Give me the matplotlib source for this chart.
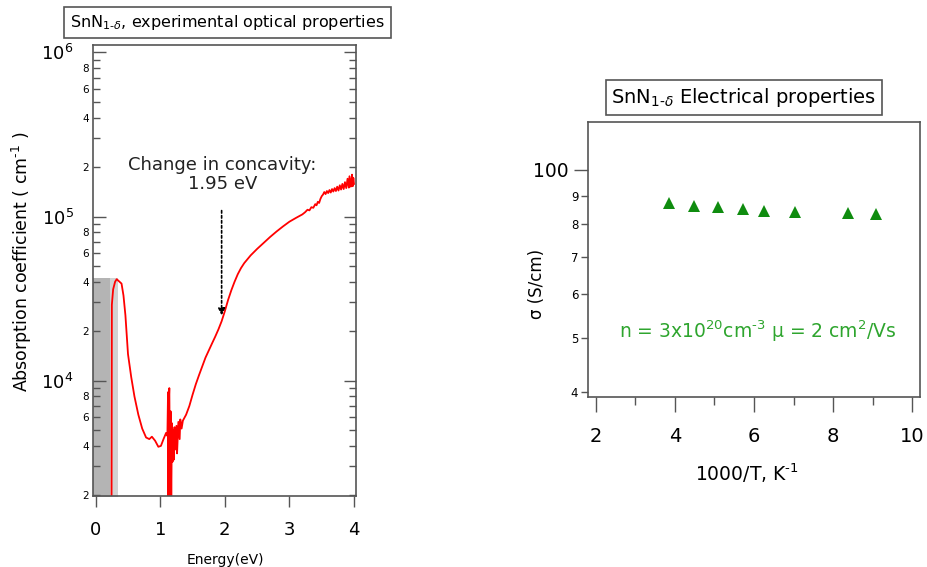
import matplotlib
matplotlib.use("Agg")
import matplotlib.pyplot as plt
from matplotlib.ticker import FixedLocator, FixedFormatter

plt.rcParams['font.family'] = ['DejaVu Sans']

# --- optical absorption spectrum ---
energy = [0.245, 0.25, 0.27, 0.30, 0.325, 0.37, 0.40, 0.43, 0.46, 0.50, 0.55,
          0.60, 0.66, 0.72, 0.78, 0.83, 0.87, 0.92, 0.97, 1.01, 1.05, 1.09,
          1.11, 1.12, 1.125, 1.13, 1.14, 1.15, 1.155, 1.16, 1.17, 1.18, 1.19, 1.20, 1.21,
          1.22, 1.23, 1.25, 1.26, 1.28, 1.30, 1.31, 1.33, 1.35, 1.40, 1.45,
          1.50, 1.55, 1.60, 1.70, 1.80, 1.85, 1.90, 1.95, 2.00, 2.05, 2.10, 2.15,
          2.20, 2.25, 2.30, 2.40, 2.50, 2.60, 2.70, 2.80, 2.90, 3.00, 3.10, 3.20,
          3.24, 3.28, 3.31, 3.34, 3.37, 3.40, 3.42, 3.44, 3.46, 3.48, 3.50, 3.52,
          3.54, 3.56, 3.58, 3.60, 3.62, 3.64, 3.66, 3.68, 3.70, 3.72, 3.74, 3.76,
          3.78, 3.80, 3.82, 3.84, 3.86, 3.88, 3.90, 3.92, 3.93, 3.95, 3.96, 3.97,
          3.98, 3.99, 4.00]
alpha = [1.5e3, 2.9e4, 3.6e4, 4.0e4, 4.15e4, 4.0e4, 3.9e4, 3.3e4, 2.5e4, 1.45e4, 1.05e4,
         8.0e3, 6.2e3, 5.1e3, 4.5e3, 4.4e3, 4.55e3, 4.3e3, 3.95e3, 4.0e3, 4.4e3, 4.8e3,
         4.6e3, 8.5e3, 1.8e3, 7.0e3, 9.0e3, 2.4e3, 1.7e3, 6.5e3, 1.8e3, 5.5e3, 3.2e3, 5.0e3, 3.3e3,
         5.2e3, 3.8e3, 5.3e3, 3.6e3, 5.6e3, 4.4e3, 5.8e3, 5.1e3, 5.7e3, 6.2e3, 7.0e3,
         8.2e3, 9.5e3, 1.08e4, 1.38e4, 1.68e4, 1.85e4, 2.05e4, 2.3e4, 2.65e4, 3.1e4, 3.55e4, 4.0e4,
         4.45e4, 4.85e4, 5.2e4, 5.8e4, 6.35e4, 6.9e4, 7.5e4, 8.1e4, 8.7e4, 9.3e4, 9.8e4, 1.03e5,
         1.06e5, 1.10e5, 1.09e5, 1.14e5, 1.13e5, 1.19e5, 1.17e5, 1.23e5, 1.21e5, 1.28e5, 1.33e5, 1.36e5,
         1.41e5, 1.37e5, 1.43e5, 1.39e5, 1.45e5, 1.40e5, 1.47e5, 1.42e5, 1.49e5, 1.43e5, 1.52e5, 1.44e5,
         1.55e5, 1.46e5, 1.58e5, 1.47e5, 1.62e5, 1.49e5, 1.70e5, 1.50e5, 1.76e5, 1.52e5, 1.66e5, 1.80e5,
         1.53e5, 1.72e5, 1.58e5]

# --- conductivity vs inverse temperature ---
inv_T = [3.84, 4.47, 5.08, 5.72, 6.26, 7.03, 8.39, 9.08]
sigma = [87.4, 86.2, 85.7, 85.1, 84.5, 84.1, 83.8, 83.5]

spine_col = '#555555'

fig = plt.figure(figsize=(9.28, 5.67), dpi=100)

# ================= left panel =================
ax1 = fig.add_axes([93/928, 1-496/567, 263/928, 451/567])
ax1.set_yscale('log')
ax1.set_xlim(-0.042, 4.031)
ax1.set_ylim(1.98e3, 1.11e6)

ax1.fill_between([-0.042, 0.22], 1e3, 4.2e4, color='#b4b4b4', lw=0)
ax1.fill_between([0.22, 0.34], 1e3, 4.2e4, color='#d2d2d2', lw=0)
ax1.plot(energy, alpha, color='#ff0000', lw=1.3)

ax1.annotate('', xy=(1.95, 2.4e4), xytext=(1.95, 1.13e5),
             arrowprops=dict(arrowstyle='-|>', color='black', lw=1.2,
                             linestyle=(0, (1.5, 1.5)), mutation_scale=10))
ax1.text(1.96, 1.8e5, 'Change in concavity:\n1.95 eV', ha='center', va='center',
         fontsize=13, color='#222222', linespacing=1.05)

major = [1e4, 1e5, 1e6]
minor = [2e3, 3e3, 4e3, 5e3, 6e3, 7e3, 8e3, 9e3,
         2e4, 3e4, 4e4, 5e4, 6e4, 7e4, 8e4, 9e4,
         2e5, 3e5, 4e5, 5e5, 6e5, 7e5, 8e5, 9e5]
minor_labels = ['2', '', '4', '', '6', '', '8', ''] * 3
ax1.yaxis.set_major_locator(FixedLocator(major))
ax1.yaxis.set_major_formatter(FixedFormatter([r'$10^4$', r'$10^5$', r'$10^6$']))
ax1.yaxis.set_minor_locator(FixedLocator(minor))
ax1.yaxis.set_minor_formatter(FixedFormatter(minor_labels))
ax1.tick_params(axis='y', which='major', direction='in', length=9, width=1,
                right=True, labelsize=13, pad=14, color=spine_col)
ax1.tick_params(axis='y', which='minor', direction='in', length=5, width=1,
                right=True, labelsize=7.5, pad=3, color=spine_col)
ax1.set_xticks([0, 1, 2, 3, 4])
ax1.tick_params(axis='x', which='major', direction='out', length=8, width=1,
                labelsize=13, pad=10, color=spine_col)
ax1.tick_params(axis='x', which='minor', bottom=False)
for s in ax1.spines.values():
    s.set_color(spine_col)
    s.set_linewidth(1.2)

ax1.set_xlabel('Energy(eV)', fontsize=10)
ax1.xaxis.set_label_coords(0.502, -0.126)
ax1.set_ylabel(r'Absorption coefficient ( cm$^{\text{-}1}$ )', fontsize=12.5)
ax1.yaxis.set_label_coords(-0.225, 0.52)

fig.text(227.5/928, 1-22.5/567, r'SnN$_{1\text{-}\delta}$, experimental optical properties',
         ha='center', va='center', fontsize=11.5,
         bbox=dict(boxstyle='square,pad=0.38', fc='white', ec=spine_col, lw=1.2))

# ================= right panel =================
ax2 = fig.add_axes([588/928, 1-396.7/567, 332/928, 275/567])
ax2.set_yscale('log')
ax2.set_xlim(1.80, 10.2)
ax2.set_ylim(39.3, 122.0)
ax2.plot(inv_T, sigma, linestyle='none', marker='^', markersize=8.5,
         color='#0f8c0f', markeredgewidth=0)

ax2.text(6.10, 51.5, r'n = 3x10$^{20}$cm$^{\text{-}3}$ μ = 2 cm$^2$/Vs',
         ha='center', va='center', fontsize=13.5, color='#2ea52e')

ax2.yaxis.set_major_locator(FixedLocator([100]))
ax2.yaxis.set_major_formatter(FixedFormatter(['100']))
ax2.yaxis.set_minor_locator(FixedLocator([40, 50, 60, 70, 80, 90]))
ax2.yaxis.set_minor_formatter(FixedFormatter(['4', '5', '6', '7', '8', '9']))
ax2.tick_params(axis='y', which='major', direction='out', length=10, width=1,
                labelsize=13.5, pad=4, color=spine_col)
ax2.tick_params(axis='y', which='minor', direction='out', length=5, width=1,
                labelsize=8.5, pad=2, color=spine_col)
ax2.set_xticks([2, 4, 6, 8, 10])
ax2.set_xticks([3, 5, 7, 9], minor=True)
ax2.tick_params(axis='x', which='major', direction='out', length=11, width=1,
                labelsize=14, pad=11, color=spine_col)
ax2.tick_params(axis='x', which='minor', direction='out', length=6, width=1,
                color=spine_col)
for s in ax2.spines.values():
    s.set_color(spine_col)
    s.set_linewidth(1.2)

ax2.set_xlabel(r'1000/T, K$^{\text{-}1}$', fontsize=13.5)
ax2.xaxis.set_label_coords(0.478, -0.235)
ax2.set_ylabel('σ (S/cm)', fontsize=12)
ax2.yaxis.set_label_coords(-0.125, 0.41)

fig.text(744/928, 1-97.5/567, r'SnN$_{1\text{-}\delta}$ Electrical properties',
         ha='center', va='center', fontsize=14,
         bbox=dict(boxstyle='square,pad=0.3', fc='white', ec=spine_col, lw=1.2))

fig.savefig('out.png', dpi=100)
